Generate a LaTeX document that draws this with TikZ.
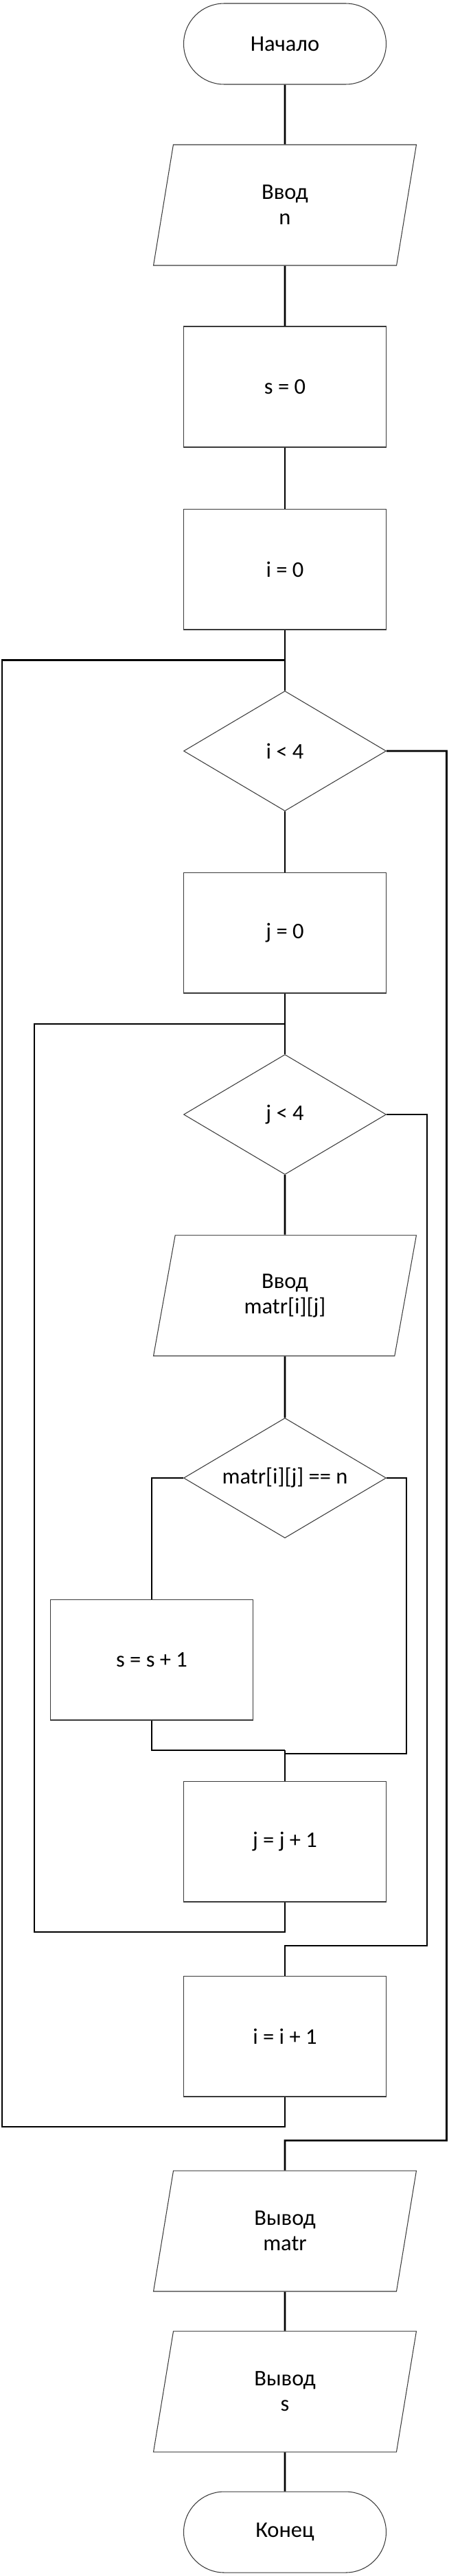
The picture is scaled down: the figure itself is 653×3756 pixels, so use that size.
\documentclass[tikz,border=0pt]{standalone}
\usepackage{fontspec}
\setmainfont{Carlito}
\usepackage{tikz}
\usetikzlibrary{shapes.geometric,shapes.misc}
\definecolor{ink}{HTML}{000000}
\definecolor{edge}{HTML}{3A3A3A}
\tikzset{
  termbox/.style={
    draw=edge, line width=0.6pt, rounded rectangle,
    minimum width=5.9cm, minimum height=2.36cm,
    inner sep=0pt, align=center
  },
  procbox/.style={
    draw=edge, line width=0.6pt, rectangle,
    minimum width=5.9cm, minimum height=3.52cm,
    inner sep=0pt, align=center
  },
  iobox/.style={
    draw=edge, line width=0.6pt, trapezium,
    trapezium left angle=63.43, trapezium right angle=116.57,
    trapezium stretches body, minimum width=7.66cm, minimum height=3.52cm,
    inner sep=0pt, align=center
  },
  askbox/.style={
    draw=edge, line width=0.6pt, diamond, aspect=1.686,
    minimum width=5.9cm, minimum height=3.5cm,
    inner sep=0pt, align=center
  },
  wire/.style={draw=ink, line width=1.5pt}
}

\begin{document}
\begin{tikzpicture}[x=0.02cm, y=-0.02cm,
    font=\fontsize{18.5pt}{21pt}\selectfont]
  \useasboundingbox (0,0) rectangle (653,3756);

  % blocks
  \node[termbox] (start) at (415,64)   {Начало};
  \node[iobox]   (inn)   at (415,299)  {Ввод\\n};
  \node[procbox] (s0)    at (415,564)  {s = 0};
  \node[procbox] (i0)    at (415,830)  {i = 0};
  \node[askbox]  (ci)    at (415,1095) {i < 4};
  \node[procbox] (j0)    at (415,1360) {j = 0};
  \node[askbox]  (cj)    at (415,1625) {j < 4};
  \node[iobox]   (inm)   at (415,1889) {Ввод\\matr[i][j]};
  \node[askbox]  (ceq)   at (415,2155) {matr[i][j] == n};
  \node[procbox] (inc)   at (221,2420) {s = s + 1};
  \node[procbox] (jinc)  at (415,2685) {j = j + 1};
  \node[procbox] (iinc)  at (415,2969) {i = i + 1};
  \node[iobox]   (outm)  at (415,3253) {Вывод\\matr};
  \node[iobox]   (outs)  at (415,3487) {Вывод\\s};
  \node[termbox] (stop)  at (415,3692) {Конец};

  % joints
  \coordinate (ji) at (415,962.5);
  \coordinate (jj) at (415,1493);
  \coordinate (jm) at (415,2552);
  \coordinate (jr) at (415,2557);
  \coordinate (jx) at (415,2837);
  \coordinate (ix) at (415,3121);

  % straight run
  \draw[wire] (start) -- (inn);
  \draw[wire] (inn) -- (s0);
  \draw[wire] (s0) -- (i0);
  \draw[wire] (i0) -- (ci);
  \draw[wire] (ci) -- (j0);
  \draw[wire] (j0) -- (cj);
  \draw[wire] (cj) -- (inm);
  \draw[wire] (inm) -- (ceq);
  \draw[wire] (jm) -- (jinc);
  \draw[wire] (outm) -- (outs);
  \draw[wire] (outs) -- (stop);

  % if branch
  \draw[wire] (ceq.west) -| (inc.north);
  \draw[wire] (inc.south) |- (jm);
  \draw[wire] (ceq.east) -| (592,2557) -- (jr) -- (jm);

  % inner loop
  \draw[wire] (jinc.south) -- (415,2817) -| (50,1493) -- (jj);
  \draw[wire] (cj.east) -| (622,2837) -- (jx) -- (iinc.north);

  % outer loop
  \draw[wire] (iinc.south) -- (415,3101) -| (2.9,962.5) -- (ji);
  \draw[wire] (ci.east) -| (650.5,3121) -- (ix) -- (outm.north);
\end{tikzpicture}
\end{document}
